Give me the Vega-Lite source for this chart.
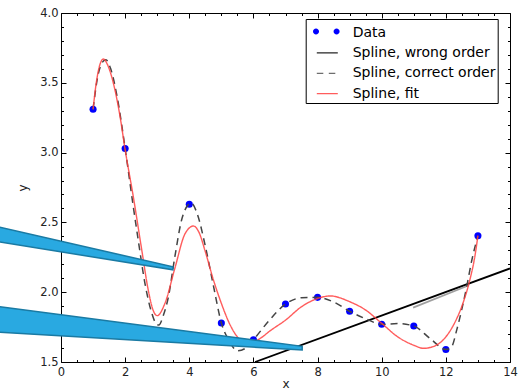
{
  "$schema": "https://vega.github.io/schema/vega-lite/v6.json",
  "width": 449,
  "height": 349,
  "autosize": {"type": "none"},
  "padding": {"left": 61, "top": 13, "right": 20, "bottom": 29},
  "config": {
    "font": "DejaVu Sans",
    "view": {"stroke": "#000000", "strokeWidth": 1},
    "axis": {
      "domain": false,
      "grid": false,
      "tickColor": "#000000",
      "tickWidth": 1,
      "labelColor": "#222222",
      "labelFontSize": 11.5,
      "labelFont": "DejaVu Sans",
      "titleFont": "DejaVu Sans",
      "titleFontSize": 12,
      "titleFontWeight": "normal",
      "titleColor": "#222222",
      "labelFlush": false,
      "labelOverlap": false
    }
  },
  "datasets": {
    "pts": [
      {"x": 1, "y": 3.31}, {"x": 2, "y": 3.03}, {"x": 4, "y": 2.63}, {"x": 5, "y": 1.78},
      {"x": 6, "y": 1.66}, {"x": 7, "y": 1.915}, {"x": 8, "y": 1.963}, {"x": 9, "y": 1.863},
      {"x": 10, "y": 1.77}, {"x": 11, "y": 1.758}, {"x": 12, "y": 1.59}, {"x": 13, "y": 2.405}
    ],
    "wrong": [{"x": 6.05, "y": 1.5}, {"x": 14, "y": 2.17}],
    "extra": [{"x": 10.98, "y": 1.89}, {"x": 12.72, "y": 2.05}],
    "correct": [
      {"x": 1.0, "y": 3.31}, {"x": 1.15, "y": 3.55}, {"x": 1.3, "y": 3.65}, {"x": 1.4, "y": 3.665},
      {"x": 1.55, "y": 3.6}, {"x": 1.75, "y": 3.4}, {"x": 2.0, "y": 3.03}, {"x": 2.25, "y": 2.62},
      {"x": 2.41, "y": 2.37}, {"x": 2.62, "y": 2.06}, {"x": 2.83, "y": 1.85}, {"x": 2.95, "y": 1.78},
      {"x": 3.05, "y": 1.765}, {"x": 3.2, "y": 1.84}, {"x": 3.35, "y": 1.968}, {"x": 3.55, "y": 2.254},
      {"x": 3.76, "y": 2.517}, {"x": 3.97, "y": 2.628}, {"x": 4.05, "y": 2.64}, {"x": 4.25, "y": 2.56},
      {"x": 4.5, "y": 2.33}, {"x": 4.75, "y": 2.05},
      {"x": 5.0, "y": 1.78}, {"x": 5.25, "y": 1.65}, {"x": 5.5, "y": 1.58}, {"x": 5.75, "y": 1.598},
      {"x": 6.0, "y": 1.66}, {"x": 6.5, "y": 1.8}, {"x": 7.0, "y": 1.915}, {"x": 7.5, "y": 1.96},
      {"x": 8.0, "y": 1.963}, {"x": 8.5, "y": 1.93}, {"x": 9.0, "y": 1.863}, {"x": 9.5, "y": 1.81},
      {"x": 10.0, "y": 1.77}, {"x": 10.5, "y": 1.775}, {"x": 11.0, "y": 1.758}, {"x": 11.5, "y": 1.67},
      {"x": 12.0, "y": 1.59}, {"x": 12.18, "y": 1.61}, {"x": 12.34, "y": 1.73}, {"x": 12.49, "y": 1.87},
      {"x": 12.65, "y": 2.04}, {"x": 12.81, "y": 2.23}, {"x": 13.0, "y": 2.405}
    ],
    "fit": [
      {"x": 1.0, "y": 3.31, "series": "Spline, fit"}, {"x": 1.1, "y": 3.5, "series": "Spline, fit"},
      {"x": 1.2, "y": 3.62, "series": "Spline, fit"}, {"x": 1.32, "y": 3.67, "series": "Spline, fit"},
      {"x": 1.45, "y": 3.63, "series": "Spline, fit"}, {"x": 1.63, "y": 3.5, "series": "Spline, fit"},
      {"x": 1.84, "y": 3.26, "series": "Spline, fit"}, {"x": 2.0, "y": 3.02, "series": "Spline, fit"},
      {"x": 2.25, "y": 2.69, "series": "Spline, fit"}, {"x": 2.52, "y": 2.3, "series": "Spline, fit"},
      {"x": 2.72, "y": 2.016, "series": "Spline, fit"}, {"x": 2.87, "y": 1.872, "series": "Spline, fit"},
      {"x": 3.0, "y": 1.832, "series": "Spline, fit"}, {"x": 3.24, "y": 1.92, "series": "Spline, fit"},
      {"x": 3.55, "y": 2.171, "series": "Spline, fit"}, {"x": 3.87, "y": 2.42, "series": "Spline, fit"},
      {"x": 4.13, "y": 2.474, "series": "Spline, fit"}, {"x": 4.3, "y": 2.43, "series": "Spline, fit"},
      {"x": 4.5, "y": 2.29, "series": "Spline, fit"}, {"x": 4.75, "y": 2.09, "series": "Spline, fit"},
      {"x": 5.0, "y": 1.92, "series": "Spline, fit"}, {"x": 5.25, "y": 1.777, "series": "Spline, fit"},
      {"x": 5.5, "y": 1.68, "series": "Spline, fit"}, {"x": 5.75, "y": 1.64, "series": "Spline, fit"},
      {"x": 6.0, "y": 1.645, "series": "Spline, fit"}, {"x": 6.25, "y": 1.675, "series": "Spline, fit"},
      {"x": 6.5, "y": 1.72, "series": "Spline, fit"}, {"x": 7.0, "y": 1.8, "series": "Spline, fit"},
      {"x": 7.5, "y": 1.896, "series": "Spline, fit"}, {"x": 8.0, "y": 1.955, "series": "Spline, fit"},
      {"x": 8.4, "y": 1.973, "series": "Spline, fit"}, {"x": 9.0, "y": 1.932, "series": "Spline, fit"},
      {"x": 9.5, "y": 1.872, "series": "Spline, fit"}, {"x": 10.0, "y": 1.777, "series": "Spline, fit"},
      {"x": 10.5, "y": 1.68, "series": "Spline, fit"}, {"x": 11.0, "y": 1.62, "series": "Spline, fit"},
      {"x": 11.3, "y": 1.598, "series": "Spline, fit"}, {"x": 11.6, "y": 1.61, "series": "Spline, fit"},
      {"x": 12.0, "y": 1.68, "series": "Spline, fit"}, {"x": 12.25, "y": 1.77, "series": "Spline, fit"},
      {"x": 12.5, "y": 1.9, "series": "Spline, fit"}, {"x": 12.75, "y": 2.09, "series": "Spline, fit"},
      {"x": 12.9, "y": 2.25, "series": "Spline, fit"}, {"x": 13.0, "y": 2.405, "series": "Spline, fit"}
    ],
    "wedges": [
      {"w": "a", "x": -2.0, "y": 2.47, "y2": 2.363},
      {"w": "a", "x": 3.49, "y": 2.182, "y2": 2.16},
      {"w": "b", "x": -2.0, "y": 1.898, "y2": 1.714},
      {"w": "b", "x": 7.52, "y": 1.612, "y2": 1.586}
    ]
  },
  "layer": [
    {
      "data": {"name": "pts"},
      "mark": {"type": "circle", "size": 50, "color": "#0000ff", "opacity": 1},
      "encoding": {
        "x": {
          "field": "x", "type": "quantitative",
          "scale": {"domain": [0, 14], "nice": false, "zero": false},
          "axis": {
            "orient": "bottom", "title": "x",
            "values": [0,0.5,1,1.5,2,2.5,3,3.5,4,4.5,5,5.5,6,6.5,7,7.5,8,8.5,9,9.5,10,10.5,11,11.5,12,12.5,13,13.5,14],
            "labelExpr": "abs(datum.value/2 - round(datum.value/2)) < 0.01 ? format(datum.value, 'd') : ''",
            "tickSize": {"condition": {"test": "abs(datum.value/2 - round(datum.value/2)) < 0.01", "value": -5}, "value": -2.5},
            "labelPadding": 9,
            "titlePadding": -2
          }
        },
        "y": {
          "field": "y", "type": "quantitative",
          "scale": {"domain": [1.5, 4.0], "nice": false, "zero": false},
          "axis": {
            "orient": "left", "title": "y",
            "values": [1.5,1.6,1.7,1.8,1.9,2.0,2.1,2.2,2.3,2.4,2.5,2.6,2.7,2.8,2.9,3.0,3.1,3.2,3.3,3.4,3.5,3.6,3.7,3.8,3.9,4.0],
            "labelExpr": "abs(datum.value*2 - round(datum.value*2)) < 0.01 ? format(datum.value, '.1f') : ''",
            "tickSize": {"condition": {"test": "abs(datum.value*2 - round(datum.value*2)) < 0.01", "value": -5}, "value": -2.5},
            "labelPadding": 8,
            "titlePadding": 10
          }
        }
      }
    },
    {
      "data": {"name": "wrong"},
      "mark": {"type": "line", "color": "#000000", "strokeWidth": 1.8, "clip": true},
      "encoding": {
        "x": {
          "field": "x", "type": "quantitative",
          "axis": {
            "orient": "top", "title": null, "labels": false,
            "values": [0,0.5,1,1.5,2,2.5,3,3.5,4,4.5,5,5.5,6,6.5,7,7.5,8,8.5,9,9.5,10,10.5,11,11.5,12,12.5,13,13.5,14],
            "tickSize": {"condition": {"test": "abs(datum.value/2 - round(datum.value/2)) < 0.01", "value": -5}, "value": -2.5}
          }
        },
        "y": {
          "field": "y", "type": "quantitative",
          "axis": {
            "orient": "right", "title": null, "labels": false,
            "values": [1.5,1.6,1.7,1.8,1.9,2.0,2.1,2.2,2.3,2.4,2.5,2.6,2.7,2.8,2.9,3.0,3.1,3.2,3.3,3.4,3.5,3.6,3.7,3.8,3.9,4.0],
            "tickSize": {"condition": {"test": "abs(datum.value*2 - round(datum.value*2)) < 0.01", "value": -5}, "value": -2.5}
          }
        }
      }
    },
    {
      "data": {"name": "extra"},
      "mark": {"type": "line", "color": "#888888", "strokeWidth": 1.8, "opacity": 0.8},
      "encoding": {
        "x": {"field": "x", "type": "quantitative", "axis": null},
        "y": {"field": "y", "type": "quantitative", "axis": null}
      }
    },
    {
      "data": {"name": "correct"},
      "mark": {"type": "line", "color": "#444444", "strokeWidth": 1.5, "strokeDash": [7, 5], "interpolate": "monotone"},
      "encoding": {
        "x": {"field": "x", "type": "quantitative", "axis": null},
        "y": {"field": "y", "type": "quantitative", "axis": null}
      }
    },
    {
      "data": {"name": "fit"},
      "mark": {"type": "line", "strokeWidth": 1.4, "opacity": 0.85, "interpolate": "monotone"},
      "encoding": {
        "x": {"field": "x", "type": "quantitative", "axis": null},
        "y": {"field": "y", "type": "quantitative", "axis": null},
        "color": {
          "field": "series", "type": "nominal",
          "scale": {
            "domain": ["Data", "Spline, wrong order", "Spline, correct order", "Spline, fit"],
            "range": ["transparent", "#000000", "#555555", "#ff4040"]
          },
          "legend": {
            "title": null, "orient": "none", "legendX": 244.7, "legendY": 6,
            "padding": 2, "strokeColor": "#000000", "fillColor": "transparent", "cornerRadius": 0,
            "symbolSize": 441, "symbolOffset": 8.1, "labelOffset": 13.9, "rowPadding": 1.4,
            "symbolStrokeWidth": 1.3,
            "labelExpr": "datum.label + '\u00a0\u00a0\u00a0'",
            "labelFontSize": 14, "labelFont": "DejaVu Sans", "labelColor": "#000000", "labelLimit": 300
          }
        },
        "strokeDash": {
          "field": "series", "type": "nominal",
          "scale": {
            "domain": ["Data", "Spline, wrong order", "Spline, correct order", "Spline, fit"],
            "range": [[1, 0], [1, 0], [6.5, 5.5], [1, 0]]
          },
          "legend": {
            "title": null, "orient": "none", "legendX": 244.7, "legendY": 6,
            "padding": 2, "strokeColor": "#000000", "fillColor": "transparent", "cornerRadius": 0,
            "symbolSize": 441, "symbolOffset": 8.1, "labelOffset": 13.9, "rowPadding": 1.4,
            "symbolStrokeWidth": 1.3,
            "labelExpr": "datum.label + '\u00a0\u00a0\u00a0'",
            "labelFontSize": 14, "labelFont": "DejaVu Sans", "labelColor": "#000000", "labelLimit": 300
          }
        }
      }
    },
    {
      "data": {"values": []},
      "mark": {"type": "point", "filled": true, "color": "#0000ff", "opacity": 1},
      "encoding": {
        "x": {"field": "x", "type": "quantitative", "axis": null},
        "y": {"field": "y", "type": "quantitative", "axis": null},
        "shape": {
          "field": "series", "type": "nominal",
          "scale": {
            "domain": ["Data"],
            "range": ["M-1.266,0a0.286,0.286 0 1,0 0.572,0a0.286,0.286 0 1,0 -0.572,0Z M0.694,0a0.286,0.286 0 1,0 0.572,0a0.286,0.286 0 1,0 -0.572,0Z"]
          },
          "legend": {
            "title": null, "orient": "none", "legendX": 244.7, "legendY": 6,
            "padding": 2, "strokeColor": "transparent", "fillColor": "transparent",
            "symbolSize": 441, "symbolOffset": 8.1, "labelOffset": 13.9, "rowPadding": 1.4,
            "symbolFillColor": "#0000ff", "symbolStrokeColor": "#0000ff", "symbolStrokeWidth": 0, "symbolOpacity": 1,
            "labelExpr": "''", "labelFontSize": 14, "labelFont": "DejaVu Sans"
          }
        }
      }
    },
    {
      "data": {"name": "wedges"},
      "mark": {"type": "area", "clip": false, "fill": "#29a9e1", "stroke": "#1a7aa3", "strokeWidth": 1.5, "interpolate": "linear"},
      "encoding": {
        "x": {"field": "x", "type": "quantitative", "axis": null},
        "y": {"field": "y", "type": "quantitative", "axis": null},
        "y2": {"field": "y2"},
        "detail": {"field": "w", "type": "nominal"}
      }
    }
  ],
  "resolve": {"axis": {"x": "independent", "y": "independent"}}
}
